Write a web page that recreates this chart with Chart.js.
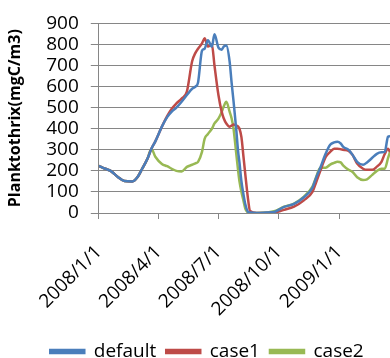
<!DOCTYPE html>
<html>
<head>
<meta charset="utf-8">
<script src="https://cdn.jsdelivr.net/npm/chart.js@4"></script>
<style>
  body { margin: 0; background: #fff; }
  #wrap { width: 390px; height: 358px; }
</style>
</head>
<body>
<div id="wrap"><canvas id="chart"></canvas></div>
<script>
// days since 2008/1/1
const days = [0,10,18,29,39,51,59,66,74,80,
  86,96,104,111,118,126,134,142,147,151,
  157,161,166,172,176,182,187,190,194,199,
  202,205,209,212,214,217,220,223,227,230,
  240,255,267,282,297,312,325,330,337,345,
  352,358,363,368,372,380,386,393,402,408,
  416,423,430,435,440,443];

const defaultVals = [224,210,200,171,152,150,171,210,257,305,
  340,410,455,481,500,528,560,590,600,620,
  770,780,820,790,848,785,775,790,795,720,
  620,530,400,290,240,150,90,40,5,2,
  0,2,5,29,43,75,120,162,215,281,
  324,335,338,330,314,300,276,243,229,240,
  262,281,288,290,362,365];

const case1Vals = [224,210,200,171,152,150,171,210,257,305,
  340,410,460,495,520,543,576,720,760,780,
  805,829,790,800,700,560,480,450,425,410,
  415,420,415,410,400,360,270,180,67,10,
  0,0,2,15,30,60,100,140,200,265,
  290,305,305,303,300,295,276,235,210,205,
  205,220,243,280,305,290];

const case2Vals = [224,210,200,171,152,150,171,210,257,305,
  267,233,222,210,200,197,219,229,236,243,
  290,352,375,400,425,448,480,505,528,481,
  450,400,285,200,150,100,60,20,2,0,
  0,2,8,30,45,78,125,165,215,215,
  230,238,243,240,225,205,195,170,157,160,
  181,200,210,210,260,290];

const tickDays = [0, 91, 182, 274, 366];
const tickLabels = ['2008/1/1', '2008/4/1', '2008/7/1', '2008/10/1', '2009/1/1'];

function pts(vals) {
  return days.map((d, i) => ({ x: d, y: vals[i] }));
}

const font = 'Open Sans';

// nudge the legend a bit right and down, like the original
const moveLegend = {
  id: 'moveLegend',
  afterLayout(chart) {
    const l = chart.legend;
    l.left += 9; l.right += 9;
    l.top += 13; l.bottom += 13;
  }
};

new Chart(document.getElementById('chart'), {
  type: 'line',
  data: {
    datasets: [
      { label: 'default', data: pts(defaultVals), borderColor: '#4a7ebb', backgroundColor: '#4a7ebb' },
      { label: 'case1', data: pts(case1Vals), borderColor: '#be4b48', backgroundColor: '#be4b48' },
      { label: 'case2', data: pts(case2Vals), borderColor: '#98b954', backgroundColor: '#98b954' }
    ]
  },
  plugins: [moveLegend],
  options: {
    responsive: true,
    maintainAspectRatio: false,
    animation: false,
    layout: { padding: { left: 6, right: 0, top: 14, bottom: 0 } },
    elements: {
      point: { radius: 0 },
      line: { borderWidth: 2.5, tension: 0.3, cubicInterpolationMode: 'monotone' }
    },
    scales: {
      x: {
        type: 'linear',
        min: 0,
        max: 443,
        afterBuildTicks: (axis) => { axis.ticks = tickDays.map(v => ({ value: v })); },
        afterFit: (axis) => { axis.height = 106; },
        ticks: {
          autoSkip: false,
          maxRotation: 45,
          minRotation: 45,
          padding: 22,
          color: '#000',
          font: { family: font, size: 19 },
          callback: (v) => tickLabels[tickDays.indexOf(v)]
        },
        grid: { drawOnChartArea: false, drawTicks: true, tickLength: 6, color: '#868686' },
        border: { color: '#868686' }
      },
      y: {
        min: 0,
        max: 900,
        afterBuildTicks: (axis) => {
          const t = [];
          for (let v = 0; v <= 900; v += 100) t.push({ value: v });
          axis.ticks = t;
        },
        ticks: {
          autoSkip: false,
          padding: 12,
          color: '#000',
          font: { family: font, size: 19 }
        },
        grid: { color: '#868686', tickLength: 8 },
        border: { color: '#868686' },
        title: {
          display: true,
          text: 'Planktothrix(mgC/m3)',
          color: '#000',
          padding: { top: 0, bottom: 9 },
          font: { family: font, size: 16, weight: 'bold' }
        }
      }
    },
    plugins: {
      legend: {
        position: 'bottom',
        labels: {
          boxWidth: 34,
          boxHeight: 3,
          padding: 10,
          color: '#000',
          font: { family: font, size: 19 }
        }
      },
      tooltip: { enabled: false }
    }
  }
});
</script>
</body>
</html>
